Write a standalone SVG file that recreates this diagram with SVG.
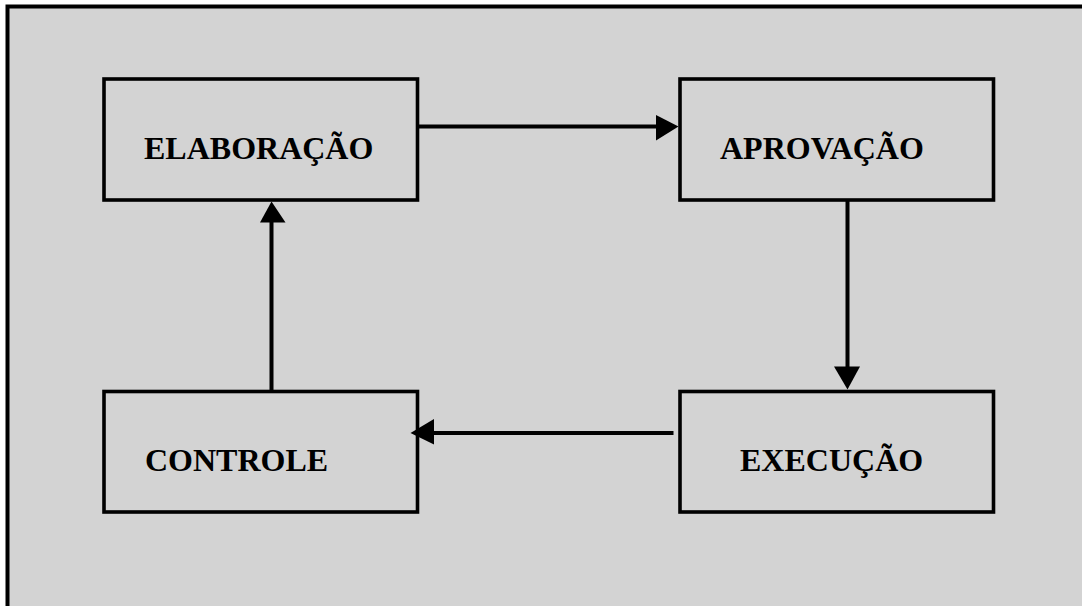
<svg xmlns="http://www.w3.org/2000/svg" width="1082" height="606" viewBox="0 0 1082 606">
  <style>
    .frame { fill: #d3d3d3; stroke: #000; stroke-width: 4; }
    .box { fill: #d3d3d3; stroke: #000; stroke-width: 3.6; }
    .label { font-family: "Liberation Serif", "Times New Roman", serif; font-weight: bold; font-size: 32px; fill: #000; }
    .link { stroke: #000; stroke-width: 4; fill: none; }
    .head { fill: #000; stroke: none; }
  </style>
  <rect x="0" y="0" width="1082" height="606" fill="#ffffff"/>
  <!-- outer panel -->
  <rect class="frame" x="7.5" y="6.5" width="1090" height="620"/>

  <g id="node-elaboracao">
    <rect class="box" x="104" y="79" width="313.5" height="121"/>
    <text class="label" x="144" y="158.5">ELABORAÇÃO</text>
  </g>
  <g id="node-aprovacao">
    <rect class="box" x="680" y="79" width="313.5" height="121"/>
    <text class="label" x="720" y="158.5">APROVAÇÃO</text>
  </g>
  <g id="node-execucao">
    <rect class="box" x="680" y="391.5" width="313.5" height="120.5"/>
    <text class="label" x="740" y="470.5">EXECUÇÃO</text>
  </g>
  <g id="node-controle">
    <rect class="box" x="104" y="391.5" width="313.5" height="120.5"/>
    <text class="label" x="145" y="470.5">CONTROLE</text>
  </g>

  <g id="connectors">
    <!-- elaboração -> aprovação -->
    <line class="link" x1="419" y1="126.5" x2="660" y2="126.5"/>
    <polygon class="head" points="656,115 678.5,126.5 656,140.5"/>
    <!-- aprovação -> execução -->
    <line class="link" x1="847.5" y1="201" x2="847.5" y2="370"/>
    <polygon class="head" points="834,366.5 860,366.5 847.5,389.5"/>
    <!-- execução -> controle -->
    <line class="link" x1="673.5" y1="433" x2="430" y2="433"/>
    <polygon class="head" points="434,419 410.5,433 434,444.5"/>
    <!-- controle -> elaboração -->
    <line class="link" x1="271.5" y1="390" x2="271.5" y2="218"/>
    <polygon class="head" points="260,222.5 271.5,201.5 285.5,222.5"/>
  </g>
</svg>
